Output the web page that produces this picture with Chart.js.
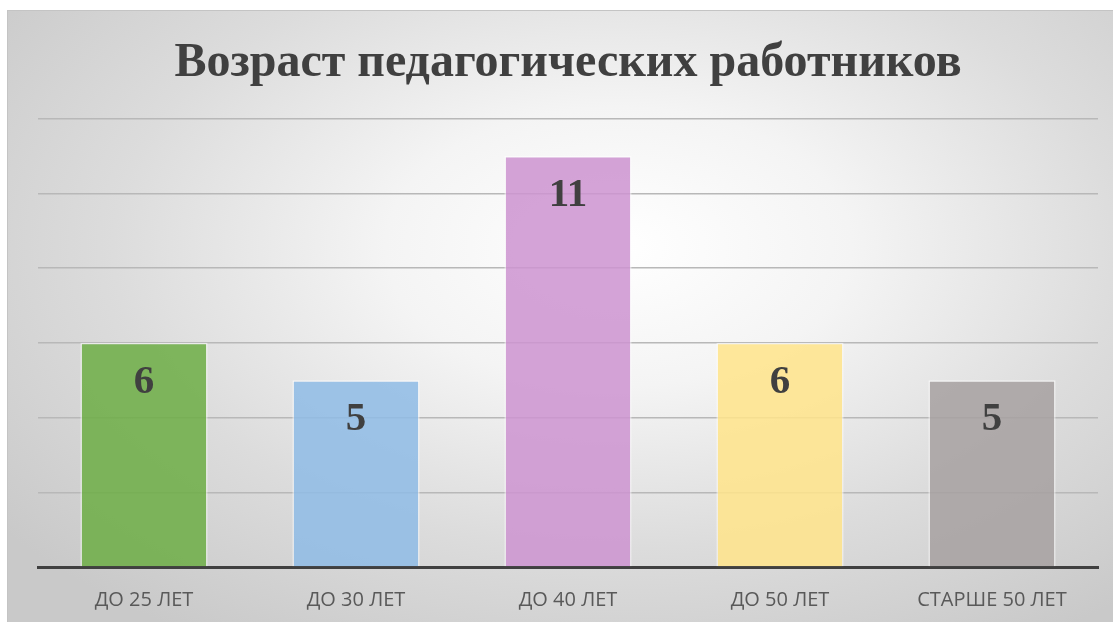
<!DOCTYPE html>
<html>
<head>
<meta charset="utf-8">
<script src="https://cdn.jsdelivr.net/npm/chart.js@4.4.1/dist/chart.umd.min.js"></script>
<style>
  html, body { margin: 0; padding: 0; background: #ffffff; overflow: hidden; }
  #wrap {
    position: absolute; left: 7px; top: 10px;
    width: 1110px; height: 620px;
    border: 1px solid #c4c4c4;
    background: radial-gradient(ellipse 70% 75% at 55% 38%, #ffffff 0%, #f4f4f4 30%, #dcdcdc 65%, #c9c9c9 100%);
  }
  #chart { display: block; }
</style>
</head>
<body>
<div id="wrap"><canvas id="chart" width="1105" height="611"></canvas></div>
<script>
// data
const categories = ["ДО 25 ЛЕТ", "ДО 30 ЛЕТ", "ДО 40 ЛЕТ", "ДО 50 ЛЕТ", "СТАРШЕ 50 ЛЕТ"];
const teachers = [6, 5, 11, 6, 5];
const barColors = [
  "rgba(110,174,70,0.86)",
  "rgba(143,188,229,0.86)",
  "rgba(205,148,208,0.86)",
  "rgba(255,228,138,0.86)",
  "rgba(166,161,161,0.86)"
];
const yTicks = { min: 0, max: 12, step: 2 };

// value labels inside the top of each bar
const valueLabels = {
  id: "valueLabels",
  afterDatasetsDraw(chart) {
    const ctx = chart.ctx;
    const meta = chart.getDatasetMeta(0);
    ctx.save();
    ctx.font = "bold 41px 'Liberation Serif', 'Times New Roman', serif";
    ctx.fillStyle = "#404040";
    ctx.textAlign = "center";
    ctx.textBaseline = "alphabetic";
    meta.data.forEach((bar, i) => {
      ctx.fillText(String(teachers[i]), bar.x, bar.y + 50);
    });
    ctx.restore();
  }
};

const ctx = document.getElementById("chart").getContext("2d");
const chart = new Chart(ctx, {
  type: "bar",
  data: {
    labels: categories,
    datasets: [
      {
        data: teachers,
        backgroundColor: barColors,
        borderColor: "rgba(255,255,255,0.6)",
        borderWidth: 1.5,
        categoryPercentage: 1,
        barPercentage: 0.6
      }
    ]
  },
  options: {
    responsive: false,
    animation: false,
    layout: {
      padding: { left: 30, right: 15, top: 0, bottom: -11 }
    },
    plugins: {
      legend: { display: false },
      tooltip: { enabled: false },
      title: {
        display: true,
        text: "Возраст педагогических работников",
        color: "#404040",
        font: { family: "'Liberation Serif', 'Times New Roman', serif", size: 48, weight: "bold", lineHeight: 1.2 },
        padding: { top: 24, bottom: 26 }
      }
    },
    scales: {
      x: {
        grid: { display: false, drawTicks: false },
        border: { display: true, color: "#404040", width: 3 },
        ticks: {
          color: "#595959",
          padding: 21,
          font: { family: "'Open Sans', sans-serif", size: 20 }
        }
      },
      y: {
        min: yTicks.min,
        max: yTicks.max,
        ticks: { display: false, stepSize: yTicks.step },
        grid: { color: "#b8b8b8", lineWidth: 1.4, drawTicks: false },
        border: { display: false }
      }
    }
  },
  plugins: [valueLabels]
});
</script>
</body>
</html>
